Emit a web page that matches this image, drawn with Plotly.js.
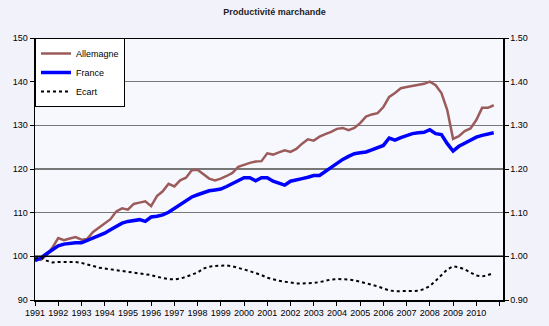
<!DOCTYPE html>
<html>
<head>
<meta charset="utf-8">
<script src="https://cdn.plot.ly/plotly-3.0.1.min.js"></script>
<style>html,body{margin:0;padding:0;background:#F2F2FB;}#chart{width:549px;height:326px;}</style>
</head>
<body>
<div id="chart"></div>
<script>
// Quarterly data 1991Q1 .. 2010Q4
const years = [1991,1992,1993,1994,1995,1996,1997,1998,1999,2000,2001,2002,2003,2004,2005,2006,2007,2008,2009,2010];
const allemagne = [
 99.5, 99.2,100.3,102.0, 104.2,103.7,104.1,104.4, 103.8,104.0,105.6,106.6, 107.5,108.5,110.3,111.0,
 110.7,112.0,112.3,112.6, 111.5,113.8,114.9,116.6, 116.0,117.4,118.0,119.7, 119.8,118.7,117.8,117.4,
 117.8,118.4,119.1,120.5, 121.0,121.4,121.7,121.8, 123.6,123.3,123.8,124.3, 123.9,124.6,125.8,126.8,
 126.5,127.4,128.0,128.5, 129.2,129.4,128.9,129.4, 130.5,132.0,132.5,132.8, 134.2,136.5,137.4,138.5,
 138.8,139.0,139.3,139.5, 140.0,139.2,137.4,133.5, 126.9,127.5,128.7,129.3, 131.2,134.0,134.0,134.6];
const france = [
 99.0, 99.6,100.6,101.6, 102.4,102.8,103.0,103.1, 103.1,103.6,104.1,104.8, 105.3,106.1,106.9,107.6,
 108.0,108.3,108.4,108.0, 109.0,109.2,109.5,110.1, 111.0,111.9,112.8,113.6, 114.1,114.6,115.0,115.2,
 115.4,116.0,116.6,117.4, 118.0,118.0,117.3,118.0, 118.0,117.2,116.8,116.3, 117.2,117.6,117.8,118.1,
 118.5,118.5,119.4,120.5, 121.3,122.2,122.9,123.5, 123.7,123.9,124.4,124.9, 125.4,127.1,126.6,127.2,
 127.7,128.1,128.3,128.4, 129.0,128.1,127.9,125.8, 124.1,125.2,125.9,126.6, 127.3,127.7,128.0,128.3];
const ecart = [
 0.995,0.998,0.990,0.986, 0.987,0.987,0.988,0.987, 0.985,0.982,0.978,0.974, 0.972,0.970,0.968,0.966,
 0.964,0.963,0.961,0.959, 0.957,0.953,0.950,0.948, 0.947,0.949,0.953,0.958, 0.963,0.972,0.976,0.978,
 0.979,0.979,0.977,0.974, 0.970,0.966,0.962,0.957, 0.951,0.947,0.944,0.942, 0.940,0.938,0.938,0.938,
 0.939,0.941,0.944,0.947, 0.948,0.948,0.947,0.945, 0.942,0.939,0.935,0.931, 0.926,0.922,0.920,0.920,
 0.920,0.921,0.921,0.925, 0.932,0.944,0.958,0.970, 0.977,0.975,0.970,0.963, 0.956,0.954,0.957,0.962];
const tickYears = years.concat([2011]);
const tickLabels = years.map(String).concat(['']);

const x = [];
years.forEach(y => { for (let q = 0; q < 4; q++) x.push(y + q * 0.25); });

const font = {family: 'Liberation Sans, Arial, sans-serif', size: 9, color: '#000'};

const traces = [
  {x: x, y: allemagne, name: 'Allemagne', type: 'scatter', mode: 'lines',
   line: {color: '#9C5B5B', width: 2.5}},
  {x: x, y: france, name: 'France', type: 'scatter', mode: 'lines',
   line: {color: '#0000FF', width: 3.5}},
  {x: x, y: ecart, name: 'Ecart', type: 'scatter', mode: 'lines', yaxis: 'y2',
   line: {color: '#000000', width: 2, dash: 'dot'}}
];

const layout = {
  width: 549, height: 326,
  margin: {l: 35, r: 46, t: 38, b: 26},
  paper_bgcolor: '#F2F2FB',
  plot_bgcolor: '#F7F8FE',
  font: font,
  title: {text: '<b>Productivité marchande</b>', font: {family: 'Liberation Sans, Arial, sans-serif', size: 9, color: '#222'}, x: 0.5, xanchor: 'center', y: 0.965, yanchor: 'middle'},
  showlegend: true,
  legend: {x: 0, y: 1, xanchor: 'left', yanchor: 'top', bgcolor: '#FFFFFF', bordercolor: '#000', borderwidth: 1,
           font: {family: 'Liberation Sans, Arial, sans-serif', size: 9, color: '#000'}, tracegroupgap: 0, itemwidth: 30},
  xaxis: {range: [1991, 2011.15], tickmode: 'array', tickvals: tickYears, ticktext: tickLabels,
          showgrid: false, zeroline: false, showline: true, linecolor: '#000', linewidth: 1.5,
          ticks: 'outside', ticklen: 4, tickcolor: '#000', tickfont: font},
  yaxis: {range: [90, 150], tickvals: [90,100,110,120,130,140,150], ticktext: ['90','100','110','120','130','140','150'],
          showgrid: true, gridcolor: '#777777', gridwidth: 1.5, zeroline: false,
          showline: true, linecolor: '#000', linewidth: 1.5, ticks: 'outside', ticklen: 4, tickcolor: '#000', tickfont: font},
  yaxis2: {range: [0.9, 1.5], overlaying: 'y', side: 'right', tickvals: [0.9,1.0,1.1,1.2,1.3,1.4,1.5], tickformat: '.2f',
           showgrid: false, zeroline: false, showline: true, linecolor: '#000', linewidth: 1.5,
           ticks: 'outside', ticklen: 4, tickcolor: '#000', tickfont: font},
  shapes: [
    {type: 'line', xref: 'paper', yref: 'y', x0: 0, x1: 1, y0: 100, y1: 100, line: {color: '#000', width: 1.5}},
    {type: 'line', xref: 'paper', yref: 'y', x0: 0, x1: 1, y0: 150, y1: 150, line: {color: '#000', width: 2}}
  ]
};

Plotly.newPlot('chart', traces, layout, {displayModeBar: false, staticPlot: true});
</script>
</body>
</html>
